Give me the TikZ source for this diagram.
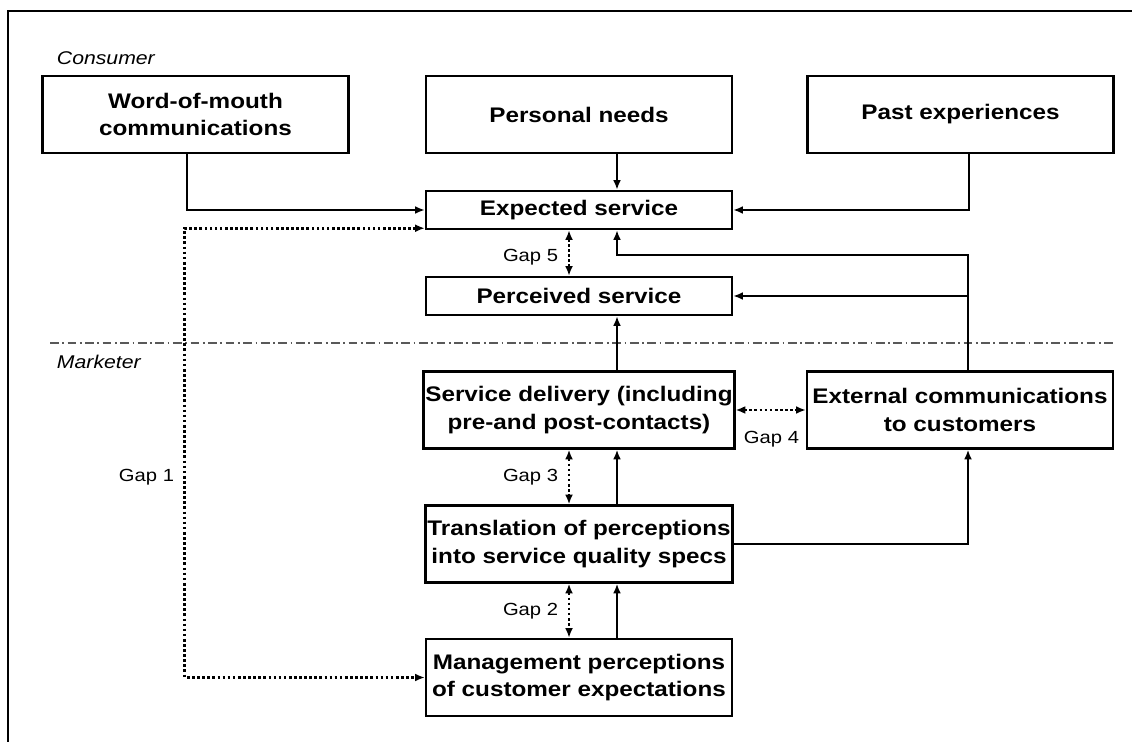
\documentclass[tikz,border=0pt]{standalone}
\usepackage{fontspec}
\usetikzlibrary{arrows.meta}
\setmainfont{Liberation Sans}[FakeStretch=1.15]
\begin{document}
\begin{tikzpicture}[x=0.02cm,y=-0.02cm,>={Latex[length=5.5pt,width=4.5pt]},line width=1.1pt,box/.style={draw,line width=1.4pt,minimum width=6.12cm,minimum height=1.54cm,inner sep=1pt,align=center,font=\bfseries\fontsize{12}{15.5}\selectfont},flat/.style={box,minimum height=0.76cm},gap/.style={font=\fontsize{10}{12}\selectfont,inner sep=0pt},side/.style={font=\itshape\fontsize{10.5}{12}\selectfont,inner sep=0pt,anchor=west},dots/.style={<->,line width=1.5pt,dash pattern=on 1.5pt off 1.4pt}]
\useasboundingbox (0,0) rectangle (1132,742);
\draw[line width=0.8pt] (1132,11)--(8,11)--(8,742);
\node[side] (con) at (56,58) {Consumer};
\node[side] (mar) at (56,362) {Marketer};
\draw[line width=0.6pt,gray!70!black,dash pattern=on 5pt off 2pt on 1pt off 2pt] (50,343)--(1115,343);
\node[box] (wom) at (195.5,114.5) {Word-of-mouth\\communications};
\node[box] (need) at (579,114.5) {Personal needs};
\node[box] (past) at (960.5,114.5) {Past experiences};
\node[flat] (exp) at (579,210) {Expected service};
\node[flat] (perc) at (579,296) {Perceived service};
\node[box] (del) at (579,410) {Service delivery (including\\pre-and post-contacts)};
\node[box] (ext) at (960,410) {External communications\\to customers};
\node[box] (tra) at (579,544) {Translation of perceptions\\into service quality specs};
\node[box] (man) at (579,677.5) {Management perceptions\\of customer expectations};
\draw[->] ([xshift=-0.17cm]wom.south)|-(exp.west);\draw[->] ([xshift=0.76cm]need.south)--([xshift=0.76cm]exp.north);
\draw[->] ([xshift=0.17cm]past.south)|-(exp.east);
\draw[->] ([xshift=0.16cm]ext.north)--++(0,-115)-|([xshift=0.76cm]exp.south);\draw[->] ([xshift=0.16cm]ext.north)|-(perc.east);
\draw[->] ([xshift=0.76cm]del.north)--([xshift=0.76cm]perc.south);
\draw[->] ([xshift=0.76cm]tra.north)--([xshift=0.76cm]del.south);\draw[->] (tra.east)-|([xshift=0.16cm]ext.south);
\draw[->] ([xshift=0.76cm]man.north)--([xshift=0.76cm]tra.south);
\draw[dots] ([xshift=-0.2cm]exp.south)--([xshift=-0.2cm]perc.north);
\draw[dots] ([xshift=-0.2cm]del.south)--([xshift=-0.2cm]tra.north);
\draw[dots] ([xshift=-0.2cm]tra.south)--([xshift=-0.2cm]man.north);
\draw[dots] (del.east)--(ext.west);
\draw[dots] ([yshift=0.04cm]exp.south west)--++(-240,0)|-(man.west);
\node[gap,anchor=east] (g5) at (559,257) {Gap 5};
\node[gap,anchor=west] (g4) at (743,439) {Gap 4};
\node[gap,anchor=east] (g3) at (559,477) {Gap 3};
\node[gap,anchor=east] (g2) at (559,611) {Gap 2};
\node[gap,anchor=east] (g1) at (175,477) {Gap 1};
\end{tikzpicture}
\end{document}
